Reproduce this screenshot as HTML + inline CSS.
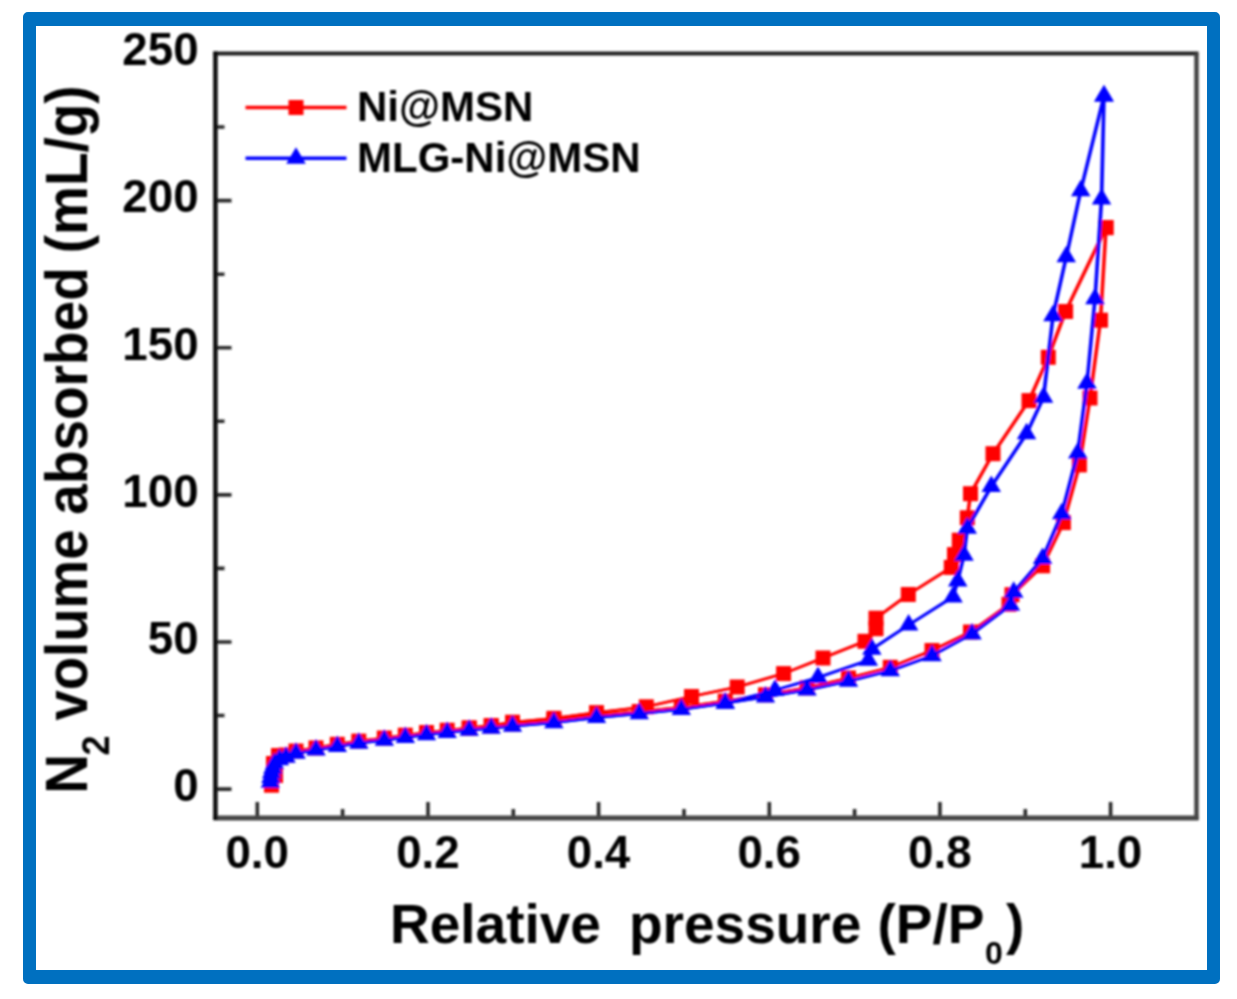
<!DOCTYPE html>
<html><head><meta charset="utf-8"><title>N2 isotherm</title>
<style>
html,body{margin:0;padding:0;background:#fff;}
body{width:1237px;height:999px;overflow:hidden;font-family:"Liberation Sans",sans-serif;}
svg{display:block;}
text{font-family:"Liberation Sans",sans-serif;font-weight:bold;fill:#000;}
</style></head><body>
<svg width="1237" height="999" viewBox="0 0 1237 999">
<defs><filter id="soft" x="0" y="0" width="1237" height="999" filterUnits="userSpaceOnUse"><feGaussianBlur stdDeviation="0.9"/></filter></defs>
<rect width="1237" height="999" fill="#fff"/>
<path fill-rule="evenodd" fill="#0070c0" d="M28 12H1215a5 5 0 0 1 5 5V979a5 5 0 0 1 -5 5H28a5 5 0 0 1 -5 -5V17a5 5 0 0 1 5 -5ZM36 26V970H1207V26Z"/>
<g id="plot" filter="url(#soft)">
<g id="series-red"><polyline fill="none" stroke="#ff0000" stroke-width="2.6" stroke-linejoin="round" points="270.9,785.2 274.9,775.5 272.9,763.5 277.9,755.5 285.4,755.0 295.4,751.0 315.4,747.9 336.8,744.3 358.2,741.1 383.8,738.0 404.8,735.2 425.9,732.5 446.6,730.2 468.6,728.0 490.6,726.0 511.9,724.0 553.4,720.5 596.0,715.4 638.7,711.5 680.8,707.3 724.7,701.1 765.0,694.8 806.5,687.8 848.0,678.0 889.8,667.3 931.5,650.5 970.0,632.0 1008.5,604.3 1011.5,594.7 1042.0,565.8 1062.9,522.6 1078.9,464.9 1089.5,398.0 1100.0,320.2 1105.5,227.6"/><polyline fill="none" stroke="#ff0000" stroke-width="2.6" stroke-linejoin="round" points="272.1,785.2 276.1,775.5 274.1,763.5 279.1,755.5 286.6,755.0 296.6,751.0 316.6,747.9 337.9,744.3 359.4,741.1 384.9,738.0 405.9,735.2 427.1,732.5 447.8,730.2 469.8,728.0 491.8,726.0 513.0,724.0 554.4,720.5 597.0,715.4 639.8,711.5 681.8,707.3 725.8,701.1 766.0,694.8 807.5,687.8 849.0,678.0 890.8,667.3 932.5,650.5 971.0,632.0 1009.5,604.3 1012.5,594.7 1043.1,565.8 1064.0,522.6 1080.0,464.9 1090.5,398.0 1101.0,320.2 1106.5,227.6"/><polyline fill="none" stroke="#ff0000" stroke-width="2.6" stroke-linejoin="round" points="1105.5,227.6 1065.0,311.5 1047.8,357.3 1028.5,400.6 992.5,453.7 970.0,493.7 966.8,517.8 958.8,540.2 954.0,554.6 950.8,567.4 907.8,594.5 875.5,618.2 875.5,628.7 864.5,641.3 822.5,658.0 783.1,673.6 736.7,687.0 691.0,696.5 645.8,706.8 596.0,712.6 553.4,718.3 511.9,722.2 490.6,725.5 468.6,728.0"/><polyline fill="none" stroke="#ff0000" stroke-width="2.6" stroke-linejoin="round" points="1106.5,227.6 1066.1,311.5 1048.8,357.3 1029.5,400.6 993.5,453.7 971.0,493.7 967.8,517.8 959.8,540.2 955.0,554.6 951.8,567.4 908.8,594.5 876.5,618.2 876.5,628.7 865.5,641.3 823.5,658.0 784.1,673.6 737.8,687.0 692.0,696.5 646.8,706.8 597.0,712.6 554.4,718.3 513.0,722.2 491.8,725.5 469.8,728.0"/><rect x="264.0" y="777.7" width="15.0" height="15.0" fill="#ff0000"/><rect x="268.0" y="768.0" width="15.0" height="15.0" fill="#ff0000"/><rect x="266.0" y="756.0" width="15.0" height="15.0" fill="#ff0000"/><rect x="271.0" y="748.0" width="15.0" height="15.0" fill="#ff0000"/><rect x="278.5" y="747.5" width="15.0" height="15.0" fill="#ff0000"/><rect x="288.5" y="743.5" width="15.0" height="15.0" fill="#ff0000"/><rect x="308.5" y="740.4" width="15.0" height="15.0" fill="#ff0000"/><rect x="329.8" y="736.8" width="15.0" height="15.0" fill="#ff0000"/><rect x="351.3" y="733.6" width="15.0" height="15.0" fill="#ff0000"/><rect x="376.8" y="730.5" width="15.0" height="15.0" fill="#ff0000"/><rect x="397.8" y="727.7" width="15.0" height="15.0" fill="#ff0000"/><rect x="419.0" y="725.0" width="15.0" height="15.0" fill="#ff0000"/><rect x="439.7" y="722.7" width="15.0" height="15.0" fill="#ff0000"/><rect x="461.7" y="720.5" width="15.0" height="15.0" fill="#ff0000"/><rect x="483.7" y="718.5" width="15.0" height="15.0" fill="#ff0000"/><rect x="505.0" y="716.5" width="15.0" height="15.0" fill="#ff0000"/><rect x="546.4" y="713.0" width="15.0" height="15.0" fill="#ff0000"/><rect x="589.0" y="707.9" width="15.0" height="15.0" fill="#ff0000"/><rect x="631.7" y="704.0" width="15.0" height="15.0" fill="#ff0000"/><rect x="673.8" y="699.8" width="15.0" height="15.0" fill="#ff0000"/><rect x="717.7" y="693.6" width="15.0" height="15.0" fill="#ff0000"/><rect x="758.0" y="687.3" width="15.0" height="15.0" fill="#ff0000"/><rect x="799.5" y="680.3" width="15.0" height="15.0" fill="#ff0000"/><rect x="841.0" y="670.5" width="15.0" height="15.0" fill="#ff0000"/><rect x="882.8" y="659.8" width="15.0" height="15.0" fill="#ff0000"/><rect x="924.5" y="643.0" width="15.0" height="15.0" fill="#ff0000"/><rect x="963.0" y="624.5" width="15.0" height="15.0" fill="#ff0000"/><rect x="1001.5" y="596.8" width="15.0" height="15.0" fill="#ff0000"/><rect x="1004.5" y="587.2" width="15.0" height="15.0" fill="#ff0000"/><rect x="1035.1" y="558.3" width="15.0" height="15.0" fill="#ff0000"/><rect x="1055.9" y="515.1" width="15.0" height="15.0" fill="#ff0000"/><rect x="1071.9" y="457.4" width="15.0" height="15.0" fill="#ff0000"/><rect x="1082.5" y="390.5" width="15.0" height="15.0" fill="#ff0000"/><rect x="1093.0" y="312.7" width="15.0" height="15.0" fill="#ff0000"/><rect x="1098.5" y="220.1" width="15.0" height="15.0" fill="#ff0000"/><rect x="1098.5" y="220.1" width="15.0" height="15.0" fill="#ff0000"/><rect x="1058.1" y="304.0" width="15.0" height="15.0" fill="#ff0000"/><rect x="1040.8" y="349.8" width="15.0" height="15.0" fill="#ff0000"/><rect x="1021.5" y="393.1" width="15.0" height="15.0" fill="#ff0000"/><rect x="985.5" y="446.2" width="15.0" height="15.0" fill="#ff0000"/><rect x="963.0" y="486.2" width="15.0" height="15.0" fill="#ff0000"/><rect x="959.8" y="510.3" width="15.0" height="15.0" fill="#ff0000"/><rect x="951.8" y="532.7" width="15.0" height="15.0" fill="#ff0000"/><rect x="947.0" y="547.1" width="15.0" height="15.0" fill="#ff0000"/><rect x="943.8" y="559.9" width="15.0" height="15.0" fill="#ff0000"/><rect x="900.8" y="587.0" width="15.0" height="15.0" fill="#ff0000"/><rect x="868.5" y="610.7" width="15.0" height="15.0" fill="#ff0000"/><rect x="868.5" y="621.2" width="15.0" height="15.0" fill="#ff0000"/><rect x="857.5" y="633.8" width="15.0" height="15.0" fill="#ff0000"/><rect x="815.5" y="650.5" width="15.0" height="15.0" fill="#ff0000"/><rect x="776.1" y="666.1" width="15.0" height="15.0" fill="#ff0000"/><rect x="729.7" y="679.5" width="15.0" height="15.0" fill="#ff0000"/><rect x="684.0" y="689.0" width="15.0" height="15.0" fill="#ff0000"/><rect x="638.8" y="699.3" width="15.0" height="15.0" fill="#ff0000"/><rect x="589.0" y="705.1" width="15.0" height="15.0" fill="#ff0000"/><rect x="546.4" y="710.8" width="15.0" height="15.0" fill="#ff0000"/><rect x="505.0" y="714.7" width="15.0" height="15.0" fill="#ff0000"/><rect x="483.7" y="718.0" width="15.0" height="15.0" fill="#ff0000"/><rect x="461.7" y="720.5" width="15.0" height="15.0" fill="#ff0000"/></g>
<g id="series-blue"><polyline fill="none" stroke="#0000ff" stroke-width="2.6" stroke-linejoin="round" points="269.8,782.2 270.3,777.5 271.1,772.8 272.2,768.2 273.9,763.7 278.9,759.7 285.4,757.2 295.4,753.2 315.4,750.1 336.8,746.5 358.2,743.3 383.8,740.2 404.8,737.4 425.9,734.7 446.6,732.4 468.6,730.2 490.6,728.2 511.9,726.2 553.4,722.7 596.0,717.6 638.7,713.7 680.8,709.5 724.7,703.3 765.0,697.0 806.5,690.0 848.0,681.2 889.8,670.7 931.5,655.7 971.5,633.9 1010.0,605.2 1013.2,592.2 1042.0,558.6 1061.2,513.8 1077.2,452.9 1086.5,383.2 1094.5,298.8 1101.0,199.0 1103.5,96.0"/><polyline fill="none" stroke="#0000ff" stroke-width="2.6" stroke-linejoin="round" points="270.9,782.2 271.4,777.5 272.2,772.8 273.4,768.2 275.1,763.7 280.1,759.7 286.6,757.2 296.6,753.2 316.6,750.1 337.9,746.5 359.4,743.3 384.9,740.2 405.9,737.4 427.1,734.7 447.8,732.4 469.8,730.2 491.8,728.2 513.0,726.2 554.4,722.7 597.0,717.6 639.8,713.7 681.8,709.5 725.8,703.3 766.0,697.0 807.5,690.0 849.0,681.2 890.8,670.7 932.5,655.7 972.5,633.9 1011.0,605.2 1014.2,592.2 1043.1,558.6 1062.3,513.8 1078.3,452.9 1087.5,383.2 1095.5,298.8 1102.1,199.0 1104.5,96.0"/><polyline fill="none" stroke="#0000ff" stroke-width="2.6" stroke-linejoin="round" points="1103.5,96.0 1080.2,190.7 1065.8,256.7 1052.5,315.8 1043.0,397.2 1026.0,433.7 990.8,486.5 966.8,528.2 963.5,555.2 957.2,580.9 952.5,596.9 908.1,625.0 871.4,649.2 867.9,660.2 817.5,677.5 774.5,690.2 724.7,703.3"/><polyline fill="none" stroke="#0000ff" stroke-width="2.6" stroke-linejoin="round" points="1104.5,96.0 1081.2,190.7 1066.8,256.7 1053.5,315.8 1044.1,397.2 1027.1,433.7 991.8,486.5 967.8,528.2 964.5,555.2 958.2,580.9 953.5,596.9 909.1,625.0 872.4,649.2 868.9,660.2 818.5,677.5 775.5,690.2 725.8,703.3"/><path d="M270.4 771.2L280.1 787.7L260.6 787.7Z" fill="#0000ff"/><path d="M270.9 766.5L280.6 783.0L261.1 783.0Z" fill="#0000ff"/><path d="M271.6 761.8L281.4 778.3L261.9 778.3Z" fill="#0000ff"/><path d="M272.8 757.2L282.6 773.7L263.1 773.7Z" fill="#0000ff"/><path d="M274.5 752.7L284.2 769.2L264.8 769.2Z" fill="#0000ff"/><path d="M279.5 748.7L289.2 765.2L269.8 765.2Z" fill="#0000ff"/><path d="M286.0 746.2L295.8 762.7L276.2 762.7Z" fill="#0000ff"/><path d="M296.0 742.2L305.8 758.7L286.2 758.7Z" fill="#0000ff"/><path d="M316.0 739.1L325.8 755.6L306.2 755.6Z" fill="#0000ff"/><path d="M337.3 735.5L347.1 752.0L327.6 752.0Z" fill="#0000ff"/><path d="M358.8 732.3L368.6 748.8L349.1 748.8Z" fill="#0000ff"/><path d="M384.3 729.2L394.1 745.7L374.6 745.7Z" fill="#0000ff"/><path d="M405.3 726.4L415.1 742.9L395.6 742.9Z" fill="#0000ff"/><path d="M426.5 723.7L436.2 740.2L416.8 740.2Z" fill="#0000ff"/><path d="M447.2 721.4L456.9 737.9L437.4 737.9Z" fill="#0000ff"/><path d="M469.2 719.2L478.9 735.7L459.4 735.7Z" fill="#0000ff"/><path d="M491.2 717.2L500.9 733.7L481.4 733.7Z" fill="#0000ff"/><path d="M512.5 715.2L522.2 731.7L502.8 731.7Z" fill="#0000ff"/><path d="M553.9 711.7L563.6 728.2L544.1 728.2Z" fill="#0000ff"/><path d="M596.5 706.6L606.2 723.1L586.8 723.1Z" fill="#0000ff"/><path d="M639.2 702.7L649.0 719.2L629.5 719.2Z" fill="#0000ff"/><path d="M681.3 698.5L691.0 715.0L671.5 715.0Z" fill="#0000ff"/><path d="M725.2 692.3L735.0 708.8L715.5 708.8Z" fill="#0000ff"/><path d="M765.5 686.0L775.2 702.5L755.8 702.5Z" fill="#0000ff"/><path d="M807.0 679.0L816.8 695.5L797.2 695.5Z" fill="#0000ff"/><path d="M848.5 670.2L858.2 686.7L838.8 686.7Z" fill="#0000ff"/><path d="M890.3 659.7L900.0 676.2L880.5 676.2Z" fill="#0000ff"/><path d="M932.0 644.7L941.8 661.2L922.2 661.2Z" fill="#0000ff"/><path d="M972.0 622.9L981.8 639.4L962.2 639.4Z" fill="#0000ff"/><path d="M1010.5 594.2L1020.2 610.7L1000.8 610.7Z" fill="#0000ff"/><path d="M1013.7 581.2L1023.5 597.7L1004.0 597.7Z" fill="#0000ff"/><path d="M1042.6 547.6L1052.3 564.1L1032.8 564.1Z" fill="#0000ff"/><path d="M1061.8 502.8L1071.5 519.3L1052.0 519.3Z" fill="#0000ff"/><path d="M1077.8 441.9L1087.5 458.4L1068.0 458.4Z" fill="#0000ff"/><path d="M1087.0 372.2L1096.8 388.7L1077.2 388.7Z" fill="#0000ff"/><path d="M1095.0 287.8L1104.8 304.3L1085.2 304.3Z" fill="#0000ff"/><path d="M1101.6 188.0L1111.3 204.5L1091.8 204.5Z" fill="#0000ff"/><path d="M1104.0 85.0L1113.8 101.5L1094.2 101.5Z" fill="#0000ff"/><path d="M1104.0 85.0L1113.8 101.5L1094.2 101.5Z" fill="#0000ff"/><path d="M1080.7 179.7L1090.5 196.2L1071.0 196.2Z" fill="#0000ff"/><path d="M1066.3 245.7L1076.0 262.2L1056.5 262.2Z" fill="#0000ff"/><path d="M1053.0 304.8L1062.8 321.3L1043.2 321.3Z" fill="#0000ff"/><path d="M1043.6 386.2L1053.3 402.7L1033.8 402.7Z" fill="#0000ff"/><path d="M1026.6 422.7L1036.3 439.2L1016.8 439.2Z" fill="#0000ff"/><path d="M991.3 475.5L1001.0 492.0L981.5 492.0Z" fill="#0000ff"/><path d="M967.3 517.2L977.0 533.7L957.5 533.7Z" fill="#0000ff"/><path d="M964.0 544.2L973.8 560.7L954.2 560.7Z" fill="#0000ff"/><path d="M957.7 569.9L967.5 586.4L948.0 586.4Z" fill="#0000ff"/><path d="M953.0 585.9L962.8 602.4L943.2 602.4Z" fill="#0000ff"/><path d="M908.6 614.0L918.4 630.5L898.9 630.5Z" fill="#0000ff"/><path d="M871.9 638.2L881.6 654.7L862.1 654.7Z" fill="#0000ff"/><path d="M868.4 649.2L878.1 665.7L858.6 665.7Z" fill="#0000ff"/><path d="M818.0 666.5L827.8 683.0L808.2 683.0Z" fill="#0000ff"/><path d="M775.0 679.2L784.8 695.7L765.2 695.7Z" fill="#0000ff"/><path d="M725.2 692.3L735.0 708.8L715.5 708.8Z" fill="#0000ff"/></g>
<g id="legend"><line x1="245.5" y1="107.5" x2="346.5" y2="107.5" stroke="#ff0000" stroke-width="3.6"/><rect x="288.5" y="100.0" width="15.0" height="15.0" fill="#ff0000"/><line x1="245.5" y1="158.3" x2="346.5" y2="158.3" stroke="#0000ff" stroke-width="3.6"/><path d="M296.0 147.3L305.8 163.8L286.2 163.8Z" fill="#0000ff"/><text x="357" y="121" font-size="42">Ni@MSN</text><text x="357" y="172" font-size="42">MLG-Ni@MSN</text></g>
<path d="M215.4 789.1H231.5M215.4 715.5H224.5M215.4 642.0H231.5M215.4 568.4H224.5M215.4 494.9H231.5M215.4 421.3H224.5M215.4 347.7H231.5M215.4 274.2H224.5M215.4 200.6H231.5M215.4 127.0H224.5M257.3 818.0V802.0M342.6 818.0V809.0M428.0 818.0V802.0M513.3 818.0V809.0M598.6 818.0V802.0M684.0 818.0V809.0M769.3 818.0V802.0M854.6 818.0V809.0M939.9 818.0V802.0M1025.3 818.0V809.0M1110.6 818.0V802.0" stroke="#2a2a2a" stroke-width="3.6" fill="none"/>
<path d="M213.4 53.4H1198.5" stroke="#222" stroke-width="4" fill="none"/>
<path d="M1196.5 53.4V820.0" stroke="#444" stroke-width="4.5" fill="none"/>
<path d="M213.4 818.0H1198.5" stroke="#444" stroke-width="5" fill="none"/>
<path d="M215.4 51.4V820.0" stroke="#0a0a0a" stroke-width="4.5" fill="none"/>
<g id="ylabels" font-size="45.7" text-anchor="end"><text x="198.6" y="800.9">0</text><text x="198.6" y="653.8">50</text><text x="198.6" y="506.7">100</text><text x="198.6" y="359.5">150</text><text x="198.6" y="212.4">200</text><text x="198.6" y="65.3">250</text></g>
<g id="xlabels" font-size="45.7" text-anchor="middle"><text x="257.2" y="868.0">0.0</text><text x="427.9" y="868.0">0.2</text><text x="598.5" y="868.0">0.4</text><text x="769.2" y="868.0">0.6</text><text x="939.8" y="868.0">0.8</text><text x="1110.5" y="868.0">1.0</text></g>
<g id="xtitle" font-size="55"><text x="390.0" y="943.3">Relative</text><text x="629.0" y="943.3">pressure</text><text x="877.5" y="943.3">(P/P</text><text x="985.0" y="964.3" font-size="32">0</text><text x="1006.0" y="943.3">)</text></g>
<g id="ytitle"><text transform="translate(87.0 793.7) rotate(-90) scale(1 1.07)" font-size="55">N</text><text transform="translate(108.5 755.5) rotate(-90) scale(1 1.07)" font-size="36">2</text><text transform="translate(87.0 720.6) rotate(-90) scale(1 1.07)" font-size="54.6">volume</text><text transform="translate(87.0 514.7) rotate(-90) scale(1 1.07)" font-size="55">absorbed</text><text transform="translate(87.0 253.3) rotate(-90) scale(1 1.07)" font-size="55">(mL/g)</text></g>
</g>
</svg>
</body></html>
